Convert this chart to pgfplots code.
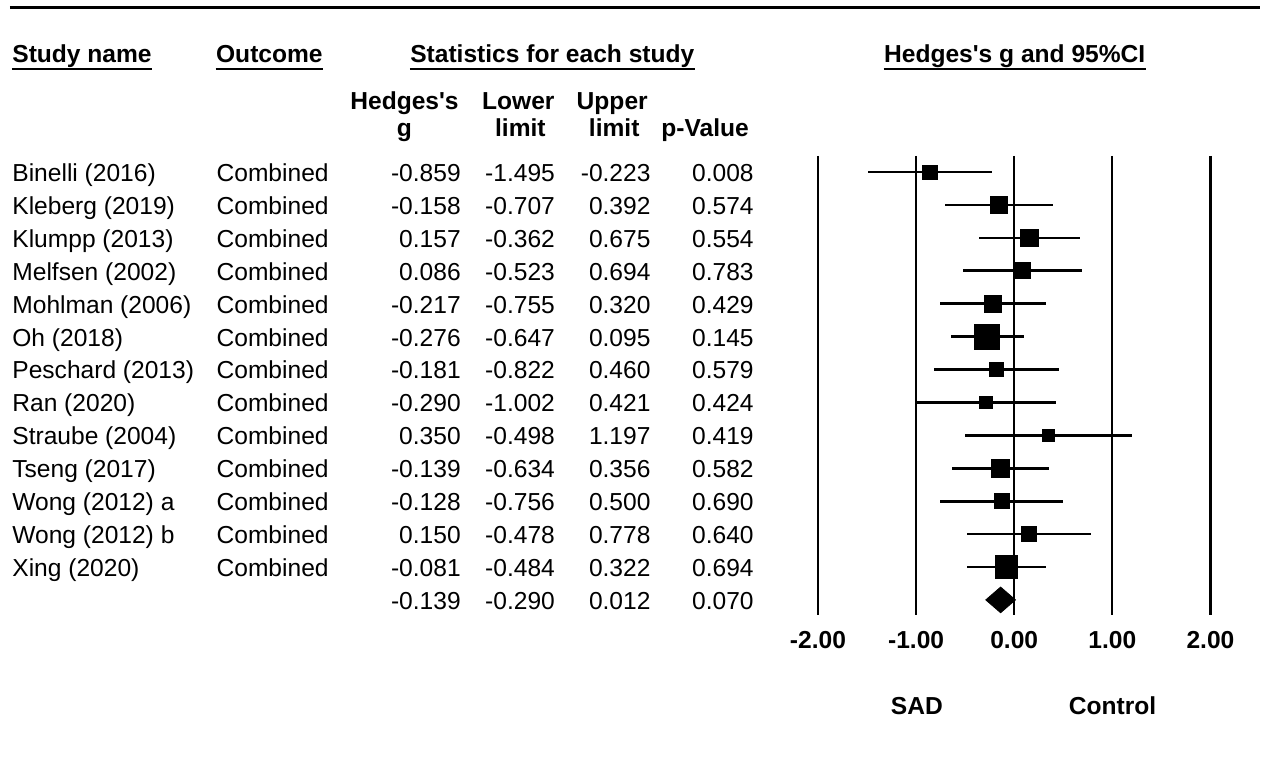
\documentclass[border=0pt]{standalone}
\usepackage{pgfplots}
\pgfplotsset{compat=1.18}
\usepackage{pgfplotstable}
\usepackage{fontspec}
\setmainfont{Liberation Sans}

\pgfplotstableread{
row g lo hi s
0 -0.859 -1.495 -0.223 3.55
1 -0.158 -0.707 0.392 4.1
2 0.157 -0.362 0.675 4.4
3 0.086 -0.523 0.694 4.0
4 -0.217 -0.755 0.320 4.2
5 -0.276 -0.647 0.095 6.2
6 -0.181 -0.822 0.460 3.55
7 -0.290 -1.002 0.421 3.1
8 0.350 -0.498 1.197 2.9
9 -0.139 -0.634 0.356 4.55
10 -0.128 -0.756 0.500 3.7
11 0.150 -0.478 0.778 3.7
12 -0.081 -0.484 0.322 5.6
}\forest

\begin{document}
\begin{tikzpicture}[every node/.style={font=\fontsize{12.3bp}{14bp}\selectfont, inner sep=0pt}]
\begin{axis}[at={(0,0)}, anchor=south west, scale only axis,
  width=631bp, height=386.5bp,
  xmin=-10.336, xmax=2.509, ymin=-5.229, ymax=18.231,
  y dir=reverse, hide axis, clip=false]
\path (rel axis cs:0,0) rectangle (rel axis cs:1,1);
% vertical reference lines
\draw[line width=1.1bp] (axis cs:-2,-0.495) -- (axis cs:-2,13.47);
\draw[line width=1.1bp] (axis cs:-1,-0.495) -- (axis cs:-1,13.47);
\draw[line width=1.1bp] (axis cs:0,-0.495) -- (axis cs:0,13.47);
\draw[line width=1.1bp] (axis cs:1,-0.495) -- (axis cs:1,13.47);
\draw[line width=1.1bp] (axis cs:2,-0.495) -- (axis cs:2,13.47);
% confidence intervals
\addplot[draw=none, mark=none, forget plot,
  error bars/.cd, x dir=both, x explicit, error mark=none,
  error bar style={draw=black, line width=1.4bp, solid}]
  table[x=g, y=row, x error plus expr=\thisrow{hi}-\thisrow{g},
        x error minus expr=\thisrow{g}-\thisrow{lo}] {\forest};
% study markers
\addplot[scatter, only marks, mark=square*, point meta=\thisrow{s},
  scatter/use mapped color={draw=black, fill=black},
  visualization depends on={\thisrow{s} \as \perpointmarksize},
  scatter/@pre marker code/.append style={/tikz/mark size=\perpointmarksize bp, /tikz/line width=0.4bp}]
  table[x=g, y=row] {\forest};
% summary diamond
\addplot[fill=black, draw=black, line width=0.4bp, mark=none]
  coordinates {(-0.290,13) (-0.139,12.61) (0.012,13) (-0.139,13.39)} -- cycle;
\end{axis}

\begin{scope}[x=0.5bp, y=-0.5bp, shift={(0bp,386.5bp)}]
% top rule
\draw[line width=1.6bp] (10,7.7) -- (1262,7.7);
% main headers
\node[anchor=base west, font=\fontsize{12.3bp}{14bp}\selectfont\bfseries] (h1) at (12,63) {Study name};
\node[anchor=base west, font=\fontsize{12.3bp}{14bp}\selectfont\bfseries] (h2) at (216,63) {Outcome};
\node[anchor=base, font=\fontsize{12.3bp}{14bp}\selectfont\bfseries] (h3) at (553,63) {Statistics for each study};
\node[anchor=base, font=\fontsize{12.3bp}{14bp}\selectfont\bfseries] (h4) at (1016,63) {Hedges\textquotesingle s g and 95\%CI};
\foreach \h in {h1,h2,h3,h4} {
  \draw[line width=0.7bp] ([yshift=-3bp]\h.base west) -- ([yshift=-3bp]\h.base east);
}
% sub headers
\begin{scope}[every node/.style={font=\fontsize{12.3bp}{14bp}\selectfont\bfseries, inner sep=0pt, anchor=base}]
\node at (405,109.5) {Hedges\textquotesingle s};
\node at (405,136.7) {g};
\node at (519,109.5) {Lower};
\node at (521,136.7) {limit};
\node at (613,109.5) {Upper};
\node at (615,136.7) {limit};
\node at (706,136.7) {p-Value};
\end{scope}
% rows
\foreach \i/\n/\g/\l/\u/\p in {
  0/Binelli (2016)/-0.859/-1.495/-0.223/0.008,
  1/Kleberg (2019)/-0.158/-0.707/0.392/0.574,
  2/Klumpp (2013)/0.157/-0.362/0.675/0.554,
  3/Melfsen (2002)/0.086/-0.523/0.694/0.783,
  4/Mohlman (2006)/-0.217/-0.755/0.320/0.429,
  5/Oh (2018)/-0.276/-0.647/0.095/0.145,
  6/Peschard (2013)/-0.181/-0.822/0.460/0.579,
  7/Ran (2020)/-0.290/-1.002/0.421/0.424,
  8/Straube (2004)/0.350/-0.498/1.197/0.419,
  9/Tseng (2017)/-0.139/-0.634/0.356/0.582,
  10/Wong (2012) a/-0.128/-0.756/0.500/0.690,
  11/Wong (2012) b/0.150/-0.478/0.778/0.640,
  12/Xing (2020)/-0.081/-0.484/0.322/0.694} {
  \pgfmathsetmacro{\yy}{181.7+32.95*\i}
  \node[anchor=base west] at (12,\yy) {\n};
  \node[anchor=base west] at (216.5,\yy) {Combined};
  \node[anchor=base east] at (461.7,\yy) {\g};
  \node[anchor=base east] at (556,\yy) {\l};
  \node[anchor=base east] at (651.7,\yy) {\u};
  \node[anchor=base east] at (755,\yy) {\p};
}
\pgfmathsetmacro{\yy}{181.7+32.95*13}
\node[anchor=base east] at (461.7,\yy) {-0.139};
\node[anchor=base east] at (556,\yy) {-0.290};
\node[anchor=base east] at (651.7,\yy) {0.012};
\node[anchor=base east] at (755,\yy) {0.070};
% tick labels
\begin{scope}[every node/.style={font=\fontsize{12.3bp}{14bp}\selectfont\bfseries, inner sep=0pt, anchor=base}]
\node at (819,649.5) {-2.00};
\node at (917.25,649.5) {-1.00};
\node at (1015.5,649.5) {0.00};
\node at (1113.75,649.5) {1.00};
\node at (1212,649.5) {2.00};
\node at (918,715.5) {SAD};
\node at (1114,715.5) {Control};
\end{scope}
\end{scope}
\end{tikzpicture}
\end{document}
